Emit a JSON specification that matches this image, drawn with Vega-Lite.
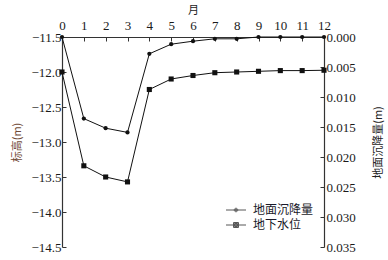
{
  "$schema": "https://vega.github.io/schema/vega-lite/v6.json",
  "width": 262,
  "height": 210,
  "autosize": {"type": "none"},
  "padding": {"left": 62, "top": 37, "right": 64, "bottom": 13},
  "background": "white",
  "config": {
    "view": {"stroke": null},
    "axis": {
      "grid": false,
      "labelFont": "Liberation Serif",
      "labelFontSize": 13,
      "labelColor": "#1a1a1a",
      "domainColor": "#333333",
      "tickColor": "#333333",
      "domainWidth": 1.2,
      "tickWidth": 1,
      "titleFont": "Noto Sans CJK SC",
      "titleFontSize": 11,
      "titleFontWeight": "normal",
      "titleColor": "#222222"
    }
  },
  "data": {
    "values": [
      {"month": 0, "settle": 0.0, "level": -12.0},
      {"month": 1, "settle": 0.0136, "level": -13.34},
      {"month": 2, "settle": 0.0152, "level": -13.5},
      {"month": 3, "settle": 0.0159, "level": -13.57},
      {"month": 4, "settle": 0.0028, "level": -12.25},
      {"month": 5, "settle": 0.0012, "level": -12.1},
      {"month": 6, "settle": 0.0007, "level": -12.05},
      {"month": 7, "settle": 0.0003, "level": -12.01},
      {"month": 8, "settle": 0.0003, "level": -12.0},
      {"month": 9, "settle": 0.0, "level": -11.99},
      {"month": 10, "settle": 0.0, "level": -11.98},
      {"month": 11, "settle": 0.0, "level": -11.98},
      {"month": 12, "settle": 0.0, "level": -11.975}
    ]
  },
  "encoding": {
    "x": {
      "field": "month",
      "type": "quantitative",
      "scale": {"domain": [0, 12], "nice": false},
      "axis": {
        "orient": "top",
        "title": "月",
        "values": [0, 1, 2, 3, 4, 5, 6, 7, 8, 9, 10, 11, 12],
        "format": "d",
        "tickSize": -4,
        "labelPadding": 9,
        "titlePadding": 4,
        "labelFlush": false
      }
    }
  },
  "layer": [
    {
      "encoding": {
        "y": {
          "field": "settle",
          "type": "quantitative",
          "scale": {"domain": [0, 0.035], "reverse": true, "nice": false, "zero": false},
          "axis": {
            "orient": "right",
            "title": "地面沉降量(m)",
            "titleAngle": -90,
            "titlePadding": 28,
            "values": [0, 0.005, 0.01, 0.015, 0.02, 0.025, 0.03, 0.035],
            "format": ".3f",
            "tickSize": -4,
            "labelPadding": 6,
            "labelFlush": false
          }
        }
      },
      "layer": [
        {"mark": {"type": "line", "color": "#111111", "strokeWidth": 1}},
        {"mark": {"type": "point", "shape": "circle", "filled": true, "color": "#111111", "size": 18, "opacity": 1}}
      ]
    },
    {
      "encoding": {
        "y": {
          "field": "level",
          "type": "quantitative",
          "scale": {"domain": [-14.5, -11.5], "nice": false, "zero": false},
          "axis": {
            "orient": "left",
            "title": "标高(m)",
            "titleColor": "#704a35",
            "titlePadding": 8,
            "values": [-11.5, -12, -12.5, -13, -13.5, -14, -14.5],
            "format": ".1f",
            "tickSize": -4,
            "labelPadding": 5,
            "labelFlush": false
          }
        }
      },
      "layer": [
        {"mark": {"type": "line", "color": "#111111", "strokeWidth": 1}},
        {"mark": {"type": "point", "shape": "square", "filled": true, "color": "#111111", "size": 26, "opacity": 1}}
      ]
    },
    {
      "data": {"values": []},
      "mark": {"type": "point", "filled": false, "color": "#111111", "strokeWidth": 1},
      "encoding": {
        "x": {"value": 0},
        "y": {"value": 0},
        "shape": {
          "field": "series",
          "type": "nominal",
          "scale": {
            "domain": ["地面沉降量", "地下水位"],
            "range": [
              "M-2,0L2,0M0.35,0A0.35,0.35,0,1,1,-0.35,0A0.35,0.35,0,1,1,0.35,0M0.14,0A0.14,0.14,0,1,1,-0.14,0A0.14,0.14,0,1,1,0.14,0",
              "M-2,0L2,0M-0.5,-0.5L0.5,-0.5L0.5,0.5L-0.5,0.5ZM-0.3,-0.3L0.3,-0.3L0.3,0.3L-0.3,0.3ZM-0.1,-0.1L0.1,-0.1L0.1,0.1L-0.1,0.1Z"
            ]
          },
          "legend": {
            "title": null,
            "orient": "none",
            "legendX": 168,
            "legendY": 167,
            "padding": 0,
            "symbolSize": 100,
            "symbolStrokeColor": "#111111",
            "symbolStrokeWidth": 1,
            "labelOffset": 11,
            "rowPadding": 3,
            "labelFont": "Noto Sans CJK SC",
            "labelFontSize": 12,
            "labelColor": "#1a1a2a"
          }
        }
      }
    }
  ],
  "resolve": {"scale": {"y": "independent", "shape": "independent"}}
}
